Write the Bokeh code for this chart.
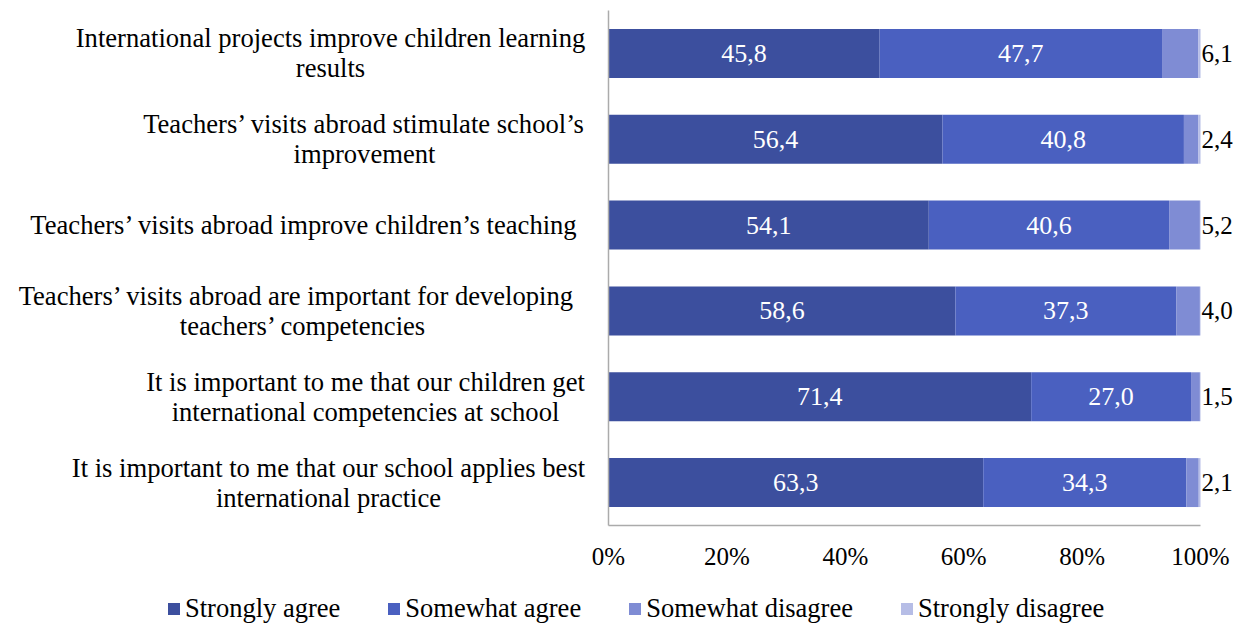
from bokeh.plotting import figure
from bokeh.models import ColumnDataSource, Range1d, Legend, LegendItem
from bokeh.core.properties import value
from bokeh.embed import file_html
from bokeh.resources import INLINE

categories = [
    "International projects improve children learning\nresults",
    "Teachers’ visits abroad stimulate school’s\nimprovement",
    "Teachers’ visits abroad improve children’s teaching",
    "Teachers’ visits  abroad  are important for developing\nteachers’ competencies",
    "It is important to me that our children get\ninternational competencies at school",
    "It is important to me that our school applies best\ninternational practice",
]
strongly_agree = [45.8, 56.4, 54.1, 58.6, 71.4, 63.3]
somewhat_agree = [47.7, 40.8, 40.6, 37.3, 27.0, 34.3]
somewhat_disagree = [6.1, 2.4, 5.2, 4.0, 1.5, 2.1]
strongly_disagree = [0.4, 0.4, 0.1, 0.1, 0.1, 0.3]
series = ["Strongly agree", "Somewhat agree", "Somewhat disagree", "Strongly disagree"]
colors = ["#3C4F9E", "#4A60C0", "#7F8CD4", "#B6BDE6"]
x_ticks = [0, 20, 40, 60, 80, 100]
x_tick_labels = ["0%", "20%", "40%", "60%", "80%", "100%"]

# ---- layout (screen pixels) ----
FRAME_W, FRAME_H = 1250, 624
ZERO_PX, FULL_PX = 608, 1200          # x pixels of 0% and 100%
TOP_PX, BOTTOM_PX = 10, 525           # y pixels of the category band
TICK_LABEL_PX = 556                   # y pixel of tick label centres
label_center_px = [330, 364, 304, 303, 365, 328]   # x centre of each category label block

n = len(categories)
PX_PER_X = (FULL_PX - ZERO_PX) / 100.0
PX_PER_Y = (BOTTOM_PX - TOP_PX) / float(n)

def px_to_x(px):
    return (px - ZERO_PX) / PX_PER_X

def py_to_y(py):
    return -0.5 + (py - TOP_PX) / PX_PER_Y

ypos = list(range(n))
keys = ["sa", "swa", "swd", "sd"]
source = ColumnDataSource(dict(y=ypos, sa=strongly_agree, swa=somewhat_agree,
                               swd=somewhat_disagree, sd=strongly_disagree))

FONT = "Liberation Serif"
AXIS_COLOR = "#ABABAB"

p = figure(frame_width=FRAME_W, frame_height=FRAME_H,
           x_range=Range1d(px_to_x(0), px_to_x(FRAME_W)),
           y_range=Range1d(py_to_y(FRAME_H), py_to_y(0)),
           output_backend="svg", toolbar_location=None,
           min_border_left=0, min_border_right=0, min_border_top=0, min_border_bottom=0)
p.outline_line_color = None
p.xgrid.grid_line_color = None
p.ygrid.grid_line_color = None
p.xaxis.visible = False
p.yaxis.visible = False

renderers = p.hbar_stack(keys, y="y", height=0.57, color=colors, source=source, line_color=None)

# axis lines
p.segment(x0=[x_ticks[0], x_ticks[0]], y0=[-0.5, n - 0.5], x1=[x_ticks[0], x_ticks[-1]], y1=[n - 0.5, n - 0.5],
          line_color=AXIS_COLOR, line_width=1.5)

# x tick labels
tick_src = ColumnDataSource(dict(x=x_ticks, y=[py_to_y(TICK_LABEL_PX)] * len(x_ticks), t=x_tick_labels))
p.text(x="x", y="y", text="t", source=tick_src, text_font=value(FONT), text_font_size="25px",
       text_color="black", text_align="center", text_baseline="middle")

# category labels
cat_src = ColumnDataSource(dict(x=[px_to_x(c) for c in label_center_px], y=ypos, t=categories))
p.text(x="x", y="y", text="t", source=cat_src, text_font=value(FONT), text_font_size="26.6px",
       text_color="black", text_align="center", text_baseline="middle", text_line_height=1.0)

def fmt(v):
    return ("%.1f" % v).replace(".", ",")

lx, ly, lt = [], [], []
for i in range(n):
    a = strongly_agree[i]
    b = somewhat_agree[i]
    lx += [a / 2, a + b / 2]
    ly += [i, i]
    lt += [fmt(a), fmt(b)]
inner = ColumnDataSource(dict(x=lx, y=ly, t=lt))
p.text(x="x", y="y", text="t", source=inner, text_color="white",
       text_font=value(FONT), text_font_size="26px", text_align="center", text_baseline="middle")

outer = ColumnDataSource(dict(x=[x_ticks[-1]] * n, y=ypos, t=[fmt(v) for v in somewhat_disagree]))
p.text(x="x", y="y", text="t", source=outer, text_color="black", x_offset=1,
       text_font=value(FONT), text_font_size="25px", text_align="left", text_baseline="middle")

legend = Legend(items=[LegendItem(label=s, renderers=[r]) for s, r in zip(series, renderers)],
                orientation="horizontal", location=(166, 0), label_text_font=FONT,
                label_text_font_size="26.5px", label_text_color="black",
                glyph_width=15, glyph_height=15,
                spacing=46, padding=0, margin=0, border_line_color=None, label_standoff=4,
                background_fill_alpha=0)
p.add_layout(legend)

open("out.html", "w").write(file_html(p, INLINE))
